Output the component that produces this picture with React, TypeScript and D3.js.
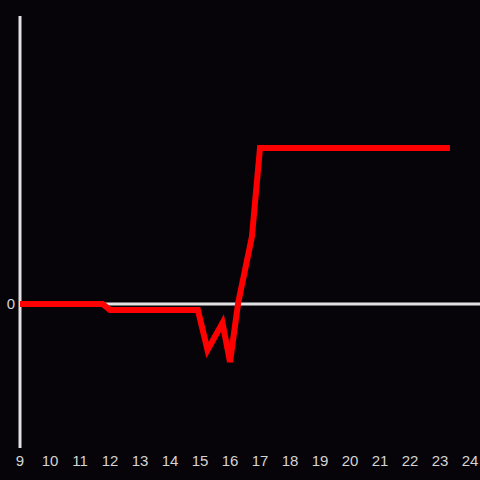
import React from "react";
import * as d3 from "d3";

const times = [9, 11.75, 12, 14.93, 15.25, 15.75, 16, 16.27, 16.73, 17, 23.33];
const values = [0, 0, -3.8, -3.8, -29.5, -12.2, -37.2, 0.5, 43, 100, 100];
const xTicks = [9, 10, 11, 12, 13, 14, 15, 16, 17, 18, 19, 20, 21, 22, 23, 24];
const yTicks = [0];

const W = 480;
const H = 480;

export default function App() {
  const x = d3.scaleLinear().domain([9, 24]).range([20, 470]);
  const y = d3.scaleLinear().domain([-92.3, 184.6]).range([448, 16]);
  const line = d3
    .line<number>()
    .x((_, i) => x(times[i]))
    .y((d) => y(d))
    .curve(d3.curveLinear);
  const axisColor = "#e2e2e2";
  const textColor = "#d4d4d4";
  return (
    <svg
      width={W}
      height={H}
      style={{ position: "fixed", left: 0, top: 0, display: "block" }}
      fontFamily="'Liberation Sans', Arial, sans-serif"
    >
      <rect x={0} y={0} width={W} height={H} fill="#060408" />
      <line x1={x(9)} x2={W} y1={y(0)} y2={y(0)} stroke={axisColor} strokeWidth={3} />
      <line x1={x(9)} x2={x(9)} y1={y(184.6)} y2={y(-92.3)} stroke={axisColor} strokeWidth={3} />
      {yTicks.map((t) => (
        <text key={t} x={x(9) - 5} y={y(t)} dy="0.35em" textAnchor="end" fontSize={15} fill={textColor}>
          {t}
        </text>
      ))}
      {xTicks.map((t) => (
        <text key={t} x={x(t)} y={461} dy="0.35em" textAnchor="middle" fontSize={15} fill={textColor}>
          {t}
        </text>
      ))}
      <path d={line(values) || ""} fill="none" stroke="#ff0000" strokeWidth={6} strokeLinejoin="miter" />
    </svg>
  );
}
